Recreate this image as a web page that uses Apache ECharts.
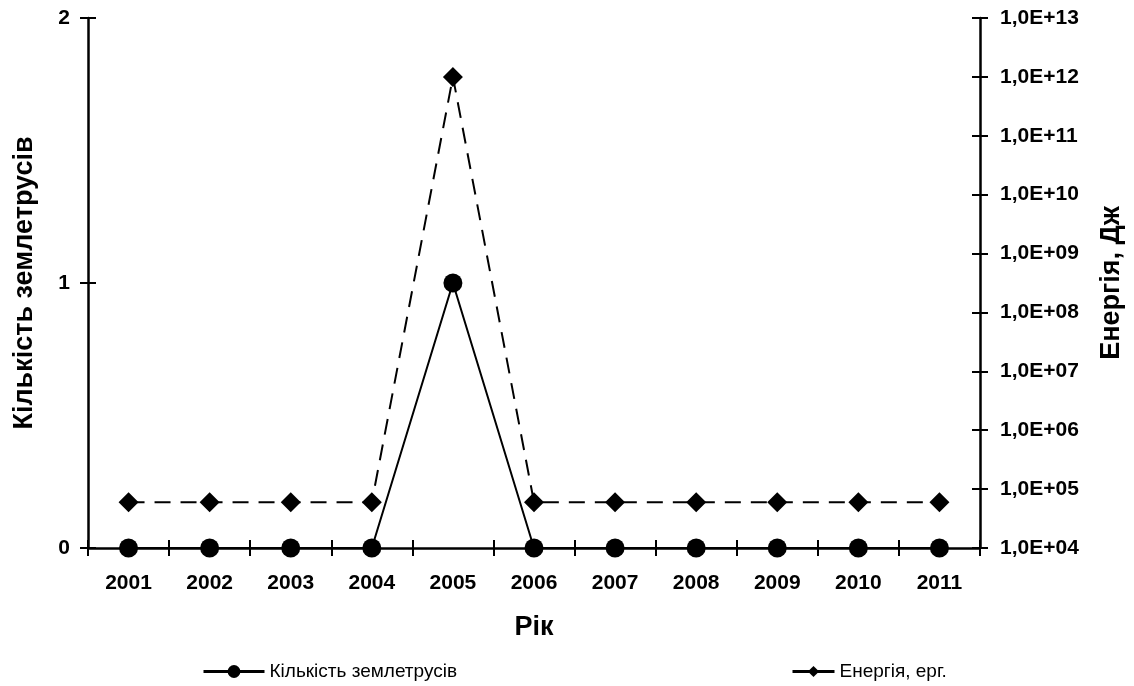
<!DOCTYPE html>
<html><head><meta charset="utf-8">
<script src="https://cdn.jsdelivr.net/npm/echarts@6/dist/echarts.min.js"></script>
<style>html,body{margin:0;padding:0;background:#fff}#c{width:1134px;height:686px}</style>
</head><body><div id="c"></div>
<script>
const years = ['2001','2002','2003','2004','2005','2006','2007','2008','2009','2010','2011'];
const quakeCount = [0,0,0,0,1,0,0,0,0,0,0];
const energy = [6e4,6e4,6e4,6e4,1e12,6e4,6e4,6e4,6e4,6e4,6e4];
const countName = 'Кількість землетрусів';
const energyName = 'Енергія, ерг.';
const leftAxisName = 'Кількість землетрусів';
const rightAxisName = 'Енергія, Дж';
const xAxisName = 'Рік';

const F = '"Liberation Sans", Arial, sans-serif';
const black = '#000';
const lbl = {color: black, fontFamily: F, fontWeight: 'bold', fontSize: 21};
const nm = {color: black, fontFamily: F, fontWeight: 'bold', fontSize: 27};
const line = {show: true, lineStyle: {color: black, width: 2.5}};
const tickOut = {show: true, length: 8, lineStyle: {color: black, width: 2}};
const tickIn = {show: true, inside: true, length: 8, lineStyle: {color: black, width: 2}};
const legText = {color: black, fontFamily: F, fontSize: 19};

const fmtLog = v => {
  const e = Math.round(Math.log10(v));
  return '1,0E+' + (e < 10 ? '0' + e : e);
};

const chart = echarts.init(document.getElementById('c'));
chart.setOption({
  backgroundColor: '#fff',
  animation: false,
  grid: {left: 88, right: 154, top: 18, bottom: 138, containLabel: false},
  legend: [
    {data: [countName], left: 197, top: 657, itemWidth: 61, itemHeight: 16, itemGap: 4,
     lineStyle: {width: 3, type: 'solid'}, textStyle: legText},
    {data: [energyName], left: 786, top: 657, itemWidth: 42, itemHeight: 14, itemGap: 4,
     lineStyle: {width: 3, type: 'solid'}, textStyle: legText}
  ],
  xAxis: [
    {type: 'category', data: years, position: 'bottom', boundaryGap: true,
     axisLine: line, axisTick: tickOut, axisLabel: Object.assign({margin: 25}, lbl),
     name: xAxisName, nameLocation: 'middle', nameGap: 66, nameTextStyle: nm,
     splitLine: {show: false}},
    {type: 'category', data: years, position: 'bottom', boundaryGap: true,
     axisLine: {show: false}, axisTick: tickIn, axisLabel: {show: false}, splitLine: {show: false}}
  ],
  yAxis: [
    {type: 'value', min: 0, max: 2, interval: 1, position: 'left',
     axisLine: line, axisTick: tickOut, axisLabel: Object.assign({margin: 18}, lbl),
     splitLine: {show: false},
     name: leftAxisName, nameLocation: 'middle', nameGap: 50, nameRotate: 90, nameTextStyle: nm},
    {type: 'log', logBase: 10, min: 1e4, max: 1e13, interval: 1, position: 'right',
     axisLine: line, axisTick: {show: true, length: 8, inside: true, lineStyle: {color: black, width: 2}},
     axisLabel: Object.assign({margin: 20, formatter: fmtLog}, lbl),
     splitLine: {show: false},
     name: rightAxisName, nameLocation: 'middle', nameGap: 118, nameRotate: 90, nameTextStyle: nm},
    {type: 'value', min: 0, max: 2, interval: 1, position: 'left',
     axisLine: {show: false}, axisTick: tickIn, axisLabel: {show: false}, splitLine: {show: false}},
    {type: 'log', logBase: 10, min: 1e4, max: 1e13, interval: 1, position: 'right',
     axisLine: {show: false}, axisTick: {show: true, length: 8, inside: false, lineStyle: {color: black, width: 2}},
     axisLabel: {show: false}, splitLine: {show: false}}
  ],
  series: [
    {name: countName, type: 'line', xAxisIndex: 0, yAxisIndex: 0, data: quakeCount,
     symbol: 'circle', symbolSize: 19, z: 3,
     lineStyle: {color: black, width: 2}, itemStyle: {color: black}},
    {name: energyName, type: 'line', xAxisIndex: 0, yAxisIndex: 1, data: energy,
     symbol: 'diamond', symbolSize: 20, z: 2,
     lineStyle: {color: black, width: 2, type: [16, 10]}, itemStyle: {color: black}}
  ]
});
</script></body></html>
